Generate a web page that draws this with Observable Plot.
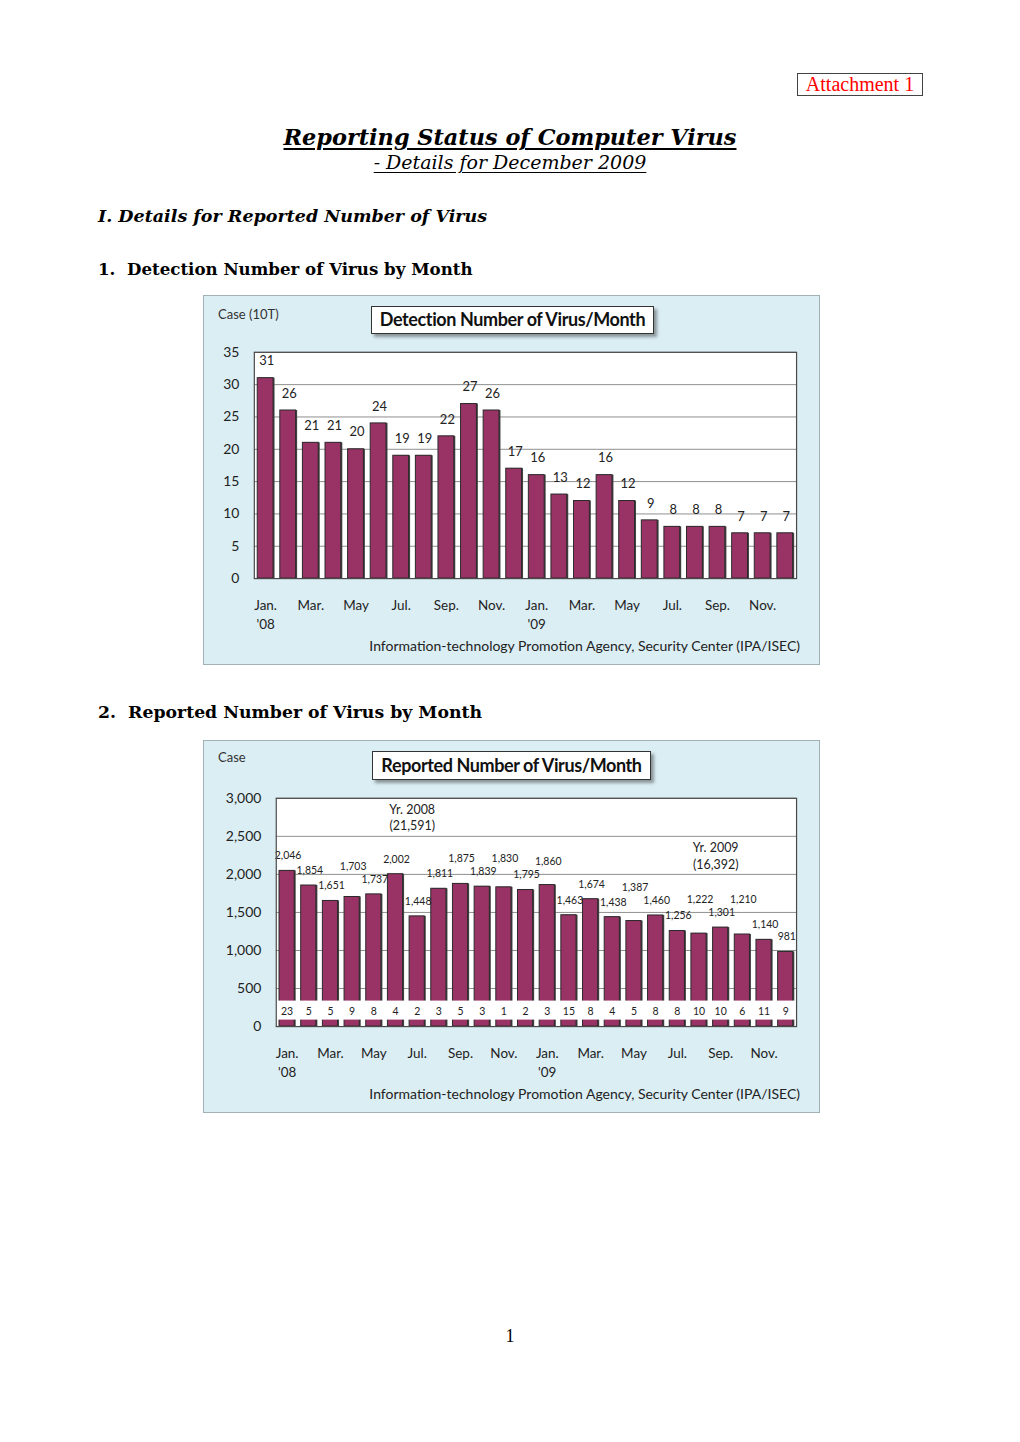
<!DOCTYPE html>
<html>
<head>
<meta charset="utf-8">
<script src="https://cdn.jsdelivr.net/npm/d3@7"></script>
<script src="https://cdn.jsdelivr.net/npm/@observablehq/plot@0.6"></script>
<style>
  html, body { margin: 0; padding: 0; background: #fff; }
  body { width: 1020px; height: 1442px; position: relative; font-family: "DejaVu Serif", serif; color: #000; }
  .abs { position: absolute; white-space: nowrap; }
  .attach { left: 797px; top: 73px; width: 124px; height: 21px; border: 1px solid #444; color: #ff0000;
            font-family: "Liberation Serif", serif; font-size: 20px; line-height: 21px; text-align: center; }
  .title { left: 0; width: 1020px; text-align: center; top: 124px; font-size: 22.4px; font-weight: bold; font-style: italic; }
  .title span { text-decoration: underline; text-underline-offset: 3px; }
  .subtitle { left: 0; width: 1020px; text-align: center; top: 151px; font-size: 19px; font-style: italic; }
  .subtitle span { text-decoration: underline; text-underline-offset: 3px; }
  .h1 { left: 98px; top: 206px; font-size: 17.5px; font-weight: bold; font-style: italic; }
  .h2 { left: 98px; font-weight: bold; }
  .chartbox { position: absolute; left: 203px; width: 617px; box-sizing: border-box; border: 1px solid #a3b1b6; background: #dbeef4; }
  .chartbox svg { position: absolute; left: -1px; top: -1px; }
  .ctitle { position: absolute; background: #fff; border: 1.3px solid #333; box-shadow: 3px 3px 3px #8a9599;
            font-family: Lato, sans-serif; font-weight: bold; font-size: 18px; letter-spacing: -0.4px; color: #111;
            text-align: center; box-sizing: border-box; }
  .unit { position: absolute; font-family: Lato, sans-serif; font-size: 13px; color: #333; }
  .source { position: absolute; right: 19px; font-family: Lato, sans-serif; font-size: 14px; color: #222; white-space: nowrap; }
  .pageno { left: 0; width: 1020px; text-align: center; top: 1326px; font-family: "Liberation Serif", serif; font-size: 18px; }
</style>
</head>
<body>
<div class="abs attach">Attachment 1</div>
<div class="abs title"><span>Reporting Status of Computer Virus</span></div>
<div class="abs subtitle"><span>- Details for December 2009</span></div>
<div class="abs h1">I. Details for Reported Number of Virus</div>
<div class="abs h2" style="top:259px;font-size:16.65px;">1.&nbsp;&nbsp;Detection Number of Virus by Month</div>
<div class="abs h2" style="top:702px;font-size:17.3px;">2.&nbsp;&nbsp;Reported Number of Virus by Month</div>

<div class="chartbox" id="c1" style="top:295px;height:370px;">
  <div class="unit" style="left:14px;top:10px;">Case (10T)</div>
  <div class="ctitle" style="left:167px;top:10px;width:283px;height:28px;line-height:25px;">Detection Number of Virus/Month</div>
  <div class="source" style="top:341px;">Information-technology Promotion Agency, Security Center (IPA/ISEC)</div>
</div>

<div class="chartbox" id="c2" style="top:740px;height:373px;">
  <div class="unit" style="left:14px;top:8px;">Case</div>
  <div class="ctitle" style="left:168px;top:10px;width:279px;height:29px;line-height:26px;">Reported Number of Virus/Month</div>
  <div class="source" style="top:344px;">Information-technology Promotion Agency, Security Center (IPA/ISEC)</div>
</div>

<div class="abs pageno">1</div>

<script>
// ---- data ----
const months = ["Jan-08","Feb-08","Mar-08","Apr-08","May-08","Jun-08","Jul-08","Aug-08","Sep-08","Oct-08","Nov-08","Dec-08",
                "Jan-09","Feb-09","Mar-09","Apr-09","May-09","Jun-09","Jul-09","Aug-09","Sep-09","Oct-09","Nov-09","Dec-09"];
const tickMonths = ["Jan-08","Mar-08","May-08","Jul-08","Sep-08","Nov-08","Jan-09","Mar-09","May-09","Jul-09","Sep-09","Nov-09"];
const tickLabels = ["Jan.\n'08","Mar.","May","Jul.","Sep.","Nov.","Jan.\n'09","Mar.","May","Jul.","Sep.","Nov."];
// detection number (unit: 10 thousand)
const detections = [31,26,21,21,20,24,19,19,22,27,26,17,16,13,12,16,12,9,8,8,8,7,7,7];
// reported number of virus per month
const reported = [2046,1854,1651,1703,1737,2002,1448,1811,1875,1839,1830,1795,
                  1860,1463,1674,1438,1387,1460,1256,1222,1301,1210,1140,981];
// small figures printed near the base of each bar
const baseCounts = [23,5,5,9,8,4,2,3,5,3,1,2,3,15,8,4,5,8,8,10,10,6,11,9];
const yTicks1 = [0,5,10,15,20,25,30,35];
const yTicks2 = [0,500,1000,1500,2000,2500,3000];
const yearNotes = [
  {year: "2008", month: "Jul-08", y: 2760},
  {year: "2009", month: "Sep-09", y: 2250}
];
const labelBand = [85, 335];   // white label strip near the base (chart 2)
const labelBandMid = 200;

// ---- build ----
const barColor = "#993366";
const tickFmt = d => tickLabels[tickMonths.indexOf(d)];
const d1 = months.map((m, i) => ({month: m, value: detections[i]}));
const d2 = months.map((m, i) => ({month: m, value: reported[i], base: baseCounts[i], year: m.slice(-2)}));
const totals = yearNotes.map(n => ({...n,
  text: `Yr. ${n.year}\n(${d3.format(",")(d3.sum(d2.filter(d => "20" + d.year === n.year), d => d.value))})`}));

const H2 = 373, MT2 = 58, MB2 = 86;
// stagger value labels of chart 2 so neighbours don't collide
{
  const yPx = d3.scaleLinear([0, 3000], [H2 - MB2, MT2]);
  const natural = d2.map(d => yPx(d.value) - 15);
  const placed = [];
  for (let i = 0; i < d2.length; i++) {
    let y = natural[i];
    if (i > 0 && Math.abs(y - placed[i - 1]) < 12) {
      const next = i + 1 < d2.length ? natural[i + 1] : Infinity;
      y = Math.min(placed[i - 1], next) - 13;
    }
    placed.push(y);
  }
  d2.forEach((d, i) => d.labelY = yPx.invert(placed[i]));
}

const common = {
  width: 617,
  style: {background: "transparent", fontFamily: "Lato, sans-serif", color: "#222", overflow: "visible"}
};
const xScale = {domain: months, paddingInner: 0.3, paddingOuter: 0.15, round: false, axis: null};

const p1 = Plot.plot({
  ...common,
  height: 370,
  marginLeft: 51, marginRight: 22, marginTop: 57, marginBottom: 86,
  x: xScale,
  y: {domain: [0, 35], axis: null},
  marks: [
    Plot.frame({fill: "white", stroke: null}),
    Plot.ruleY(yTicks1, {stroke: "#8f8f8f", strokeWidth: 1}),
    Plot.barY(d1, {x: "month", y: "value", fill: "#444", dx: 1.5}),
    Plot.barY(d1, {x: "month", y: "value", fill: barColor, stroke: "#2a2a2a", strokeWidth: 1}),
    Plot.text(d1, {x: "month", y: "value", text: d => String(d.value), dy: -17, dx: 1, fontSize: 13, fill: "#222"}),
    Plot.frame({stroke: "#4a4a4a", strokeWidth: 1.2}),
    Plot.axisY(yTicks1, {tickSize: 0, tickPadding: 15, fontSize: 14, label: null, fill: "#222"}),
    Plot.axisX(tickMonths, {tickSize: 0, tickPadding: 18, tickFormat: tickFmt, fontSize: 13.5, lineHeight: 1.4, label: null, fill: "#222"})
  ]
});
document.getElementById("c1").prepend(p1);

const p2 = Plot.plot({
  ...common,
  height: H2,
  marginLeft: 73, marginRight: 22, marginTop: MT2, marginBottom: MB2,
  x: xScale,
  y: {domain: [0, 3000], axis: null},
  marks: [
    Plot.frame({fill: "white", stroke: null}),
    Plot.ruleY(yTicks2, {stroke: "#8f8f8f", strokeWidth: 1}),
    Plot.barY(d2, {x: "month", y: "value", fill: "#444", dx: 1.5}),
    Plot.barY(d2, {x: "month", y: "value", fill: barColor, stroke: "#2a2a2a", strokeWidth: 1}),
    Plot.barY(d2, {x: "month", y1: labelBand[0], y2: labelBand[1], fill: "white", insetLeft: -2, insetRight: -3}),
    Plot.text(d2, {x: "month", y: labelBandMid, text: d => String(d.base), fontSize: 10.5, fill: "#222"}),
    Plot.text(d2, {x: "month", y: "labelY", text: d => d3.format(",")(d.value), dx: 1, fontSize: 10.5, fill: "#222"}),
    Plot.text(totals, {x: "month", y: "y", text: "text", dx: -5, fontSize: 12.5, lineHeight: 1.3, fill: "#222"}),
    Plot.frame({stroke: "#4a4a4a", strokeWidth: 1.2}),
    Plot.axisY(yTicks2, {tickSize: 0, tickPadding: 15, fontSize: 14, tickFormat: d3.format(","), label: null, fill: "#222"}),
    Plot.axisX(tickMonths, {tickSize: 0, tickPadding: 18, tickFormat: tickFmt, fontSize: 13.5, lineHeight: 1.4, label: null, fill: "#222"})
  ]
});
document.getElementById("c2").prepend(p2);
</script>
</body>
</html>
